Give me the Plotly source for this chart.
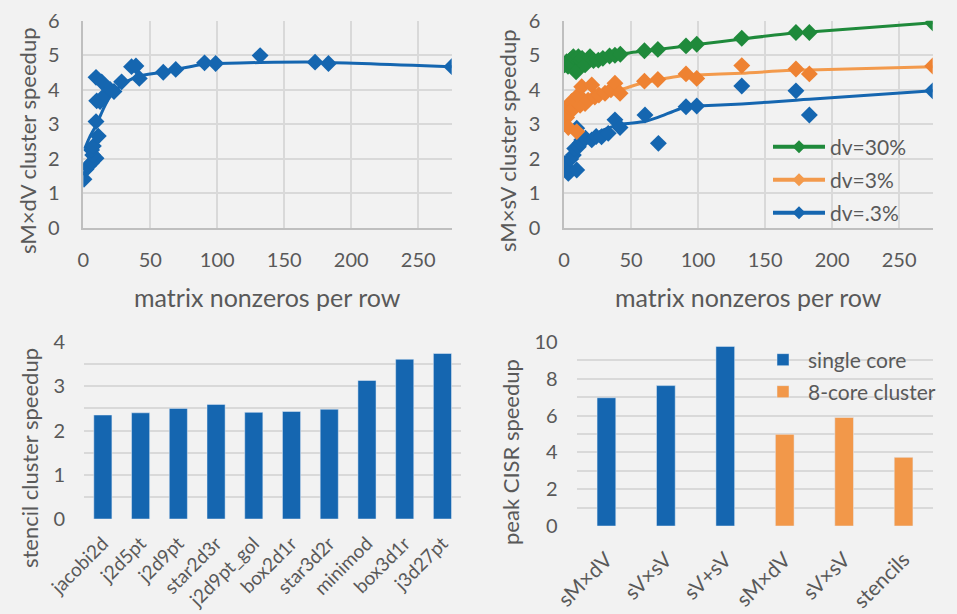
import plotly.graph_objects as go

# ---------------- data ----------------
# sMxdV cluster speedup vs matrix nonzeros per row
smxdv_x = [0.5, 2, 3.7, 6.2, 9.5, 7, 6.2, 7.5, 11.2, 9.5, 10, 12.5, 9.5, 13.7, 16.2, 20, 22.9,
           28.6, 36, 39.3, 41.8, 59.7, 69, 90.5, 98.8, 132, 173, 183, 275]
smxdv_y = [1.41, 1.70, 1.79, 1.89, 2.02, 2.11, 2.26, 2.37, 2.66, 3.08, 3.68, 3.66, 4.36, 4.23, 3.85,
           4.01, 3.95, 4.23, 4.67, 4.69, 4.33, 4.51, 4.59, 4.78, 4.76, 4.99, 4.80, 4.76, 4.67]
smxdv_fit_x = [1, 5, 10, 12.4, 15, 20, 25, 32, 42, 57, 70, 90, 100, 132, 175, 275]
smxdv_fit_y = [2.29, 2.65, 3.0, 3.22, 3.45, 3.8, 4.02, 4.23, 4.4, 4.5, 4.6, 4.74, 4.76, 4.79, 4.8, 4.67]

# sMxsV cluster speedup, three densities
dv30_x = [0.5, 2, 3, 4.5, 6, 7, 9, 10.7, 12, 13.5, 15.7, 19.4, 22, 25.6, 29, 34, 38, 42,
          60, 70, 91, 99, 132.6, 173, 183, 275]
dv30_y = [4.72, 4.81, 4.68, 4.86, 4.75, 4.96, 4.52, 4.96, 4.85, 4.91, 4.72, 4.96, 4.85, 4.86,
          4.91, 4.98, 5.0, 5.03, 5.13, 5.17, 5.27, 5.32, 5.49, 5.66, 5.66, 5.94]
dv30_fit_x = [0.5, 5, 10, 20, 30, 42, 60, 70, 91, 99, 132.6, 173, 183, 275]
dv30_fit_y = [4.72, 4.8, 4.86, 4.92, 4.96, 5.03, 5.13, 5.17, 5.27, 5.31, 5.47, 5.65, 5.67, 5.94]

dv3_x = [0.7, 2, 3.2, 4, 5.7, 7, 8, 9.5, 10.7, 12, 13.2, 15.7, 18, 20.7, 23, 26, 30.6, 35, 38,
         41.8, 60, 70, 91, 99, 132.6, 173, 183, 275]
dv3_y = [3.42, 3.2, 2.91, 3.5, 3.66, 3.45, 3.7, 2.79, 3.85, 3.55, 4.09, 3.6, 3.7, 4.14, 3.79,
         3.85, 3.9, 4.0, 4.19, 3.9, 4.25, 4.3, 4.46, 4.33, 4.70, 4.6, 4.46, 4.69]
dv3_fit_x = [0.7, 5, 10, 15, 20, 30, 42, 60, 70, 91, 99, 132.6, 173, 183, 275]
dv3_fit_y = [3.42, 3.5, 3.58, 3.65, 3.72, 3.88, 4.0, 4.22, 4.29, 4.42, 4.43, 4.48, 4.57, 4.57, 4.67]

dv03_x = [0.7, 2, 3.2, 5, 7, 8, 9.5, 9.5, 10.7, 12, 13.2, 16, 20.7, 24, 28, 33, 38, 41.8,
          60.4, 70.4, 91, 99, 132.6, 173, 183, 275]
dv03_y = [1.87, 1.75, 1.58, 2.0, 2.11, 2.3, 1.68, 2.89, 2.35, 2.45, 2.55, 2.6, 2.55, 2.65, 2.64,
          2.74, 3.13, 2.91, 3.27, 2.45, 3.51, 3.53, 4.11, 3.97, 3.27, 3.97]
dv03_fit_x = [0.7, 5, 10, 15, 20, 30, 42, 60, 70, 91, 99, 132.6, 173, 183, 275]
dv03_fit_y = [1.75, 2.05, 2.35, 2.55, 2.64, 2.85, 3.0, 3.08, 3.2, 3.51, 3.53, 3.59, 3.70, 3.73, 3.97]

# stencil cluster speedup
stencils = ["jacobi2d", "j2d5pt", "j2d9pt", "star2d3r", "j2d9pt_gol", "box2d1r", "star3d2r",
            "minimod", "box3d1r", "j3d27pt"]
stencil_speedup = [2.35, 2.40, 2.50, 2.59, 2.41, 2.43, 2.48, 3.13, 3.61, 3.74]

# peak CISR speedup
peak_labels = ["sM×dV", "sV×sV", "sV+sV", "sM×dV", "sV×sV", "stencils"]
single_pos = [0, 1, 2]
single_core = [6.97, 7.63, 9.76]
cluster_pos = [3, 4, 5]
cluster_8core = [4.98, 5.90, 3.73]

y_titles = ["sM×dV cluster speedup", "sM×sV cluster speedup",
            "stencil cluster speedup", "peak CISR speedup"]
x_title = "matrix nonzeros per row"

# ---------------- styling ----------------
BLUE = "#1566b0"
ORANGE = "#ee8232"
ORANGE_LINE = "#f39a4c"
ORANGE_BAR = "#f2984a"
GREEN = "#1f8a3b"
GRID = "#d9d9d9"
AXLINE = "#bfbfbf"
TXT = "#595959"
FONT = "Lato"
TICK = dict(family=FONT, size=20, color=TXT)
BL_TICK = dict(family=FONT, size=19, color=TXT)
BR_TICK = dict(family=FONT, size=21, color=TXT)
YTITLE = dict(family=FONT, size=22, color=TXT)
XTITLE = dict(family=FONT, size=25, color=TXT)
BG = "#f2f2f2"
HIDDEN_TICK = "rgba(0,0,0,0)"

fig = go.Figure()

def pts(x, y, color, xa, ya):
    fig.add_trace(go.Scatter(x=x, y=y, mode="markers", xaxis=xa, yaxis=ya, showlegend=False,
                             marker=dict(symbol="diamond", size=13, color=color)))

def fit(x, y, color, xa, ya):
    fig.add_trace(go.Scatter(x=x, y=y, mode="lines", xaxis=xa, yaxis=ya, showlegend=False,
                             line=dict(color=color, width=3, shape="spline", smoothing=0.6)))

# top-left
fit(smxdv_fit_x, smxdv_fit_y, BLUE, "x", "y")
pts(smxdv_x, smxdv_y, BLUE, "x", "y")

# top-right
fit(dv03_fit_x, dv03_fit_y, BLUE, "x2", "y2")
pts(dv03_x, dv03_y, BLUE, "x2", "y2")
fit(dv3_fit_x, dv3_fit_y, ORANGE_LINE, "x2", "y2")
pts(dv3_x, dv3_y, ORANGE, "x2", "y2")
fit(dv30_fit_x, dv30_fit_y, GREEN, "x2", "y2")
pts(dv30_x, dv30_y, GREEN, "x2", "y2")

# legend entries for top-right
for name, color, lg in [("dv=30%", GREEN, "legend"), ("dv=3%", ORANGE_LINE, "legend2"),
                        ("dv=.3%", BLUE, "legend3")]:
    fig.add_trace(go.Scatter(x=[None], y=[None], mode="lines+markers", name=name, legend=lg,
                             xaxis="x2", yaxis="y2",
                             line=dict(color=color, width=4),
                             marker=dict(symbol="diamond", size=10, color=color)))

# bottom-left
fig.add_trace(go.Bar(x=stencils, y=stencil_speedup, xaxis="x3", yaxis="y3", showlegend=False,
                     marker=dict(color=BLUE), width=0.48))

# bottom-right
fig.add_trace(go.Bar(x=single_pos, y=single_core, xaxis="x4", yaxis="y4", name="single core",
                     legend="legend4", marker=dict(color=BLUE), width=0.315))
fig.add_trace(go.Bar(x=cluster_pos, y=cluster_8core, xaxis="x4", yaxis="y4",
                     name="8-core cluster", legend="legend5", marker=dict(color=ORANGE_BAR),
                     width=0.315))

W, H = 957, 614
def xd(a, b):
    return [a / W, b / W]
def yd(top, bot):
    return [1 - bot / H, 1 - top / H]

scatter_x = dict(range=[0, 275], dtick=50, showgrid=True, gridcolor=GRID, gridwidth=1.5,
                 showline=True, linecolor=AXLINE, linewidth=1.5, zeroline=False,
                 ticks="outside", ticklen=13, tickcolor=HIDDEN_TICK,
                 tickfont=TICK, automargin=False)
scatter_y = dict(range=[0, 6], dtick=1, showgrid=True, gridcolor=GRID, gridwidth=1.5,
                 showline=True, linecolor=AXLINE, linewidth=1.5, zeroline=False, ticks="",
                 tickfont=TICK, ticklabelstandoff=18, automargin=False)

fig.update_layout(
    width=W, height=H, margin=dict(l=0, r=0, t=0, b=0, autoexpand=False),
    paper_bgcolor=BG, plot_bgcolor=BG, barmode="overlay",
    font=dict(family=FONT, color=TXT),
    xaxis=dict(domain=xd(83.3, 451.7), anchor="y", **scatter_x),
    yaxis=dict(domain=yd(20.7, 228), anchor="x", **scatter_y),
    xaxis2=dict(domain=xd(564, 932.7), anchor="y2", **scatter_x),
    yaxis2=dict(domain=yd(20.7, 228), anchor="x2", **scatter_y),
    xaxis3=dict(domain=xd(84, 461.3), anchor="y3", type="category", showgrid=False,
                showline=False, zeroline=False, ticks="outside", ticklen=5,
                tickcolor=HIDDEN_TICK, tickangle=-45, tickfont=BL_TICK, automargin=False),
    yaxis3=dict(domain=yd(342, 519), anchor="x3", range=[0, 4], dtick=1, showgrid=True,
                gridcolor=GRID, gridwidth=1.5, zeroline=False, showline=False, ticks="",
                tickfont=TICK, ticklabelstandoff=18, automargin=False,
                minor=dict(dtick=0.5, showgrid=True, gridcolor=GRID, gridwidth=1.5)),
    xaxis4=dict(domain=xd(576.7, 933.3), anchor="y4", range=[-0.5, 5.5],
                tickvals=single_pos + cluster_pos, ticktext=peak_labels, showgrid=False,
                showline=False, zeroline=False, ticks="outside", ticklen=12,
                tickcolor=HIDDEN_TICK, tickangle=-45, tickfont=BR_TICK, automargin=False),
    yaxis4=dict(domain=yd(342, 526), anchor="x4", range=[0, 10], dtick=2, showgrid=True,
                gridcolor=GRID, gridwidth=1.5, zeroline=False, showline=False, ticks="",
                tickfont=TICK, ticklabelstandoff=18, automargin=False,
                minor=dict(dtick=1, showgrid=True, gridcolor=GRID, gridwidth=1.5)),
)

# axis titles placed as in the original
title_pos = [(27, 141), (507, 141), (29, 458), (510, 452)]
for text, (px, py) in zip(y_titles, title_pos):
    fig.add_annotation(text=text, xref="paper", yref="paper", x=px / W, y=1 - py / H,
                       xanchor="center", yanchor="middle", textangle=-90, showarrow=False,
                       font=YTITLE)
for px in (267.5, 748):
    fig.add_annotation(text=x_title, xref="paper", yref="paper", x=px / W, y=1 - 297 / H,
                       xanchor="center", yanchor="middle", showarrow=False, font=XTITLE)

leg_common = dict(bgcolor="rgba(0,0,0,0)", font=dict(family=FONT, size=21, color=TXT),
                  xanchor="left", yanchor="middle")
fig.update_layout(
    legend=dict(x=768 / W, y=1 - 147 / H, itemwidth=52, **leg_common),
    legend2=dict(x=768 / W, y=1 - 180 / H, itemwidth=52, **leg_common),
    legend3=dict(x=768 / W, y=1 - 213 / H, itemwidth=52, **leg_common),
    legend4=dict(x=758 / W, y=1 - 360 / H, itemwidth=40, **leg_common),
    legend5=dict(x=758 / W, y=1 - 392 / H, itemwidth=40, **leg_common),
)

fig.write_html("out.html", config={"displayModeBar": False},
               post_script="document.body.style.margin='0';document.body.style.padding='0';"
                           "document.body.style.overflow='hidden';")
